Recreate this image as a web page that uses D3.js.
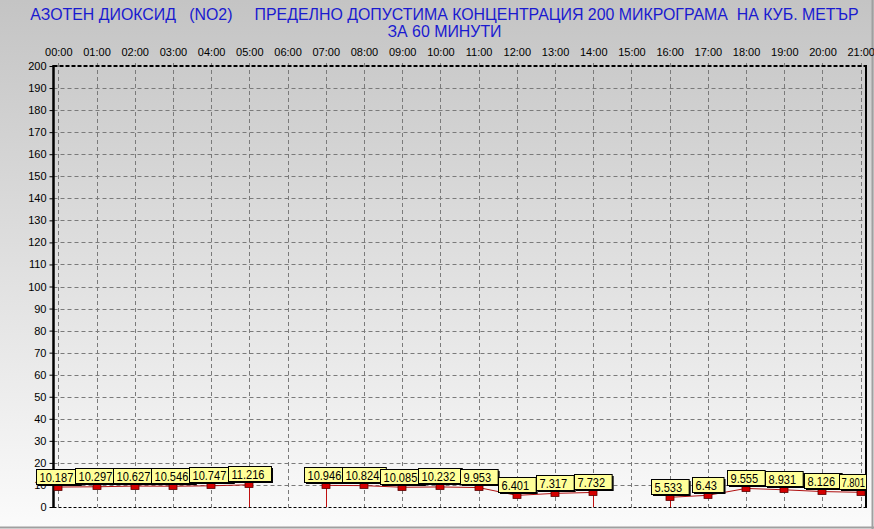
<!DOCTYPE html>
<html><head><meta charset="utf-8">
<script src="https://cdn.jsdelivr.net/npm/d3@7"></script>
<style>
html,body{margin:0;padding:0;background:#fff;}
svg{display:block;font-family:"Liberation Sans",Arial,sans-serif;}
</style></head>
<body>
<svg id="chart" width="874" height="529"></svg>
<script>
const titleLine1 = "АЗОТЕН ДИОКСИД   (NO2)     ПРЕДЕЛНО ДОПУСТИМА КОНЦЕНТРАЦИЯ 200 МИКРОГРАМА  НА КУБ. МЕТЪР";
const titleLine2 = "ЗА 60 МИНУТИ";
const hours = ["00:00","01:00","02:00","03:00","04:00","05:00","06:00","07:00","08:00","09:00","10:00",
               "11:00","12:00","13:00","14:00","15:00","16:00","17:00","18:00","19:00","20:00","21:00"];
const values = [10.187,10.297,10.627,10.546,10.747,11.216,null,10.946,10.824,10.085,10.232,
                9.953,6.401,7.317,7.732,null,5.533,6.43,9.555,8.931,8.126,7.801];
const labels = ["10.187","10.297","10.627","10.546","10.747","11.216",null,"10.946","10.824","10.085","10.232",
                "9.953","6.401","7.317","7.732",null,"5.533","6.43","9.555","8.931","8.126","7.801"];
const yTicks = d3.range(0, 201, 10);

const W = 874, H = 529;
const plot = {left: 53.5, right: 866, top: 66, bottom: 507};
const svg = d3.select("#chart");

const defs = svg.append("defs");
const grad = defs.append("linearGradient").attr("id","bg").attr("x1",0).attr("y1",0).attr("x2",0).attr("y2",1);
grad.append("stop").attr("offset","0%").attr("stop-color","#c4c4c4");
grad.append("stop").attr("offset","100%").attr("stop-color","#fbfbfb");
defs.append("clipPath").attr("id","clipR").append("rect").attr("x",0).attr("y",0).attr("width",plot.right).attr("height",H);
svg.append("rect").attr("width",W).attr("height",H).attr("fill","url(#bg)");
// frame edges
svg.append("line").attr("x1",0).attr("x2",W).attr("y1",527.5).attr("y2",527.5).attr("stroke","#a0a0a0").attr("stroke-width",2);
svg.append("line").attr("x1",872.5).attr("x2",872.5).attr("y1",0).attr("y2",H).attr("stroke","#a0a0a0").attr("stroke-width",2);

const x = d3.scalePoint().domain(hours).range([58.3, 860.7]);
const y = d3.scaleLinear().domain([0, 200]).range([plot.bottom, plot.top]);

// title
const nb = s => s.replace(/ /g, "\u00A0");
const t = svg.append("g").attr("fill","#1a1ad0").attr("font-size",15.9).attr("text-anchor","middle");
t.append("text").attr("x",444.5).attr("y",20).text(nb(titleLine1));
t.append("text").attr("x",444.5).attr("y",37).text(nb(titleLine2));

// grid
const grid = svg.append("g").attr("stroke","#7a7a7a").attr("stroke-width",1).attr("stroke-dasharray","4,3");
grid.selectAll("line.h").data(yTicks.filter(d => d > 0 && d < 200)).join("line")
  .attr("x1",plot.left).attr("x2",plot.right)
  .attr("y1",d => Math.round(y(d))+0.5).attr("y2",d => Math.round(y(d))+0.5);
grid.selectAll("line.v").data(hours).join("line")
  .attr("x1",d => Math.round(x(d))+0.5).attr("x2",d => Math.round(x(d))+0.5)
  .attr("y1",plot.top-3).attr("y2",plot.bottom);

// top & bottom borders dashed black
svg.append("line").attr("x1",plot.left).attr("x2",plot.right).attr("y1",plot.top).attr("y2",plot.top)
  .attr("stroke","#000").attr("stroke-width",2).attr("stroke-dasharray","4,2");
svg.append("line").attr("x1",plot.left).attr("x2",plot.right).attr("y1",plot.bottom+0.5).attr("y2",plot.bottom+0.5)
  .attr("stroke","#000").attr("stroke-width",1).attr("stroke-dasharray","3,2");
svg.append("line").attr("x1",plot.right).attr("x2",plot.right).attr("y1",plot.top-1).attr("y2",plot.bottom+1)
  .attr("stroke","#000").attr("stroke-width",2);

// left axis
const yAxis = svg.append("g").attr("transform",`translate(${plot.left},0)`)
  .call(d3.axisLeft(y).tickValues(yTicks).tickSize(4).tickPadding(3).tickFormat(d3.format("d")));
yAxis.select(".domain").remove();
yAxis.selectAll("text").attr("font-size",11).attr("fill","#000").attr("font-family","Liberation Sans, Arial, sans-serif");
yAxis.selectAll("line").attr("stroke","#000");
svg.append("line").attr("x1",plot.left).attr("x2",plot.left).attr("y1",plot.top-1).attr("y2",plot.bottom+1)
  .attr("stroke","#000").attr("stroke-width",2.5);

// top axis
const xAxis = svg.append("g").attr("transform",`translate(0,${plot.top})`)
  .call(d3.axisTop(x).tickSize(0).tickPadding(10));
xAxis.select(".domain").remove();
xAxis.selectAll("text").attr("font-size",11).attr("fill","#000").attr("font-family","Liberation Sans, Arial, sans-serif");

// series
const pts = hours.map((h,i) => ({h, v: values[i], lab: labels[i], i}));
const line = d3.line().defined(d => d.v != null).x(d => x(d.h)).y(d => y(d.v) + 2.5);
svg.append("path").datum(pts).attr("d",line).attr("fill","none").attr("stroke","#b01010").attr("stroke-width",1);

// drop lines at gap edges
const drops = pts.filter(d => d.v != null && ((d.i > 0 && values[d.i-1] == null) || (d.i < values.length-1 && values[d.i+1] == null)));
svg.selectAll("line.drop").data(drops).join("line")
  .attr("x1",d => Math.round(x(d.h))+0.5).attr("x2",d => Math.round(x(d.h))+0.5)
  .attr("y1",d => y(d.v)+5).attr("y2",plot.bottom)
  .attr("stroke","#c01010").attr("stroke-width",1);

const valid = pts.filter(d => d.v != null);
svg.selectAll("rect.mk").data(valid).join("rect")
  .attr("x",d => Math.round(x(d.h))-4).attr("y",d => Math.round(y(d.v))+0.5)
  .attr("width",8).attr("height",5)
  .attr("fill","#d40000").attr("stroke","#5a0000").attr("stroke-width",0.8);

// labels
const lg = svg.append("g").attr("font-size",13).attr("clip-path","url(#clipR)");
valid.forEach(d => {
  const g = lg.append("g");
  const txt = g.append("text").attr("text-anchor","start").attr("fill","#000").text(d.lab);
  let tl = txt.node().getComputedTextLength() * 0.85;
  const w = tl + 10;
  let bx = Math.round(x(d.h) - w/2) + 0.5;
  let pad = 3;
  if (bx + pad + tl > plot.right - 1) {
    bx -= 3; pad = 2;
    tl = Math.min(tl, plot.right - 1 - (bx + pad));
  }
  const by = Math.round(y(d.v)) - 15.5;
  txt.attr("x", bx + pad).attr("y", by + 12).attr("textLength", tl).attr("lengthAdjust","spacingAndGlyphs");
  g.insert("rect","text").attr("x",bx+1.5).attr("y",by+1.5).attr("width",w).attr("height",15).attr("fill","#000");
  g.insert("rect","text").attr("x",bx).attr("y",by).attr("width",w).attr("height",15)
    .attr("fill","#ffff99").attr("stroke","#000").attr("stroke-width",1);
});
</script>
</body></html>
